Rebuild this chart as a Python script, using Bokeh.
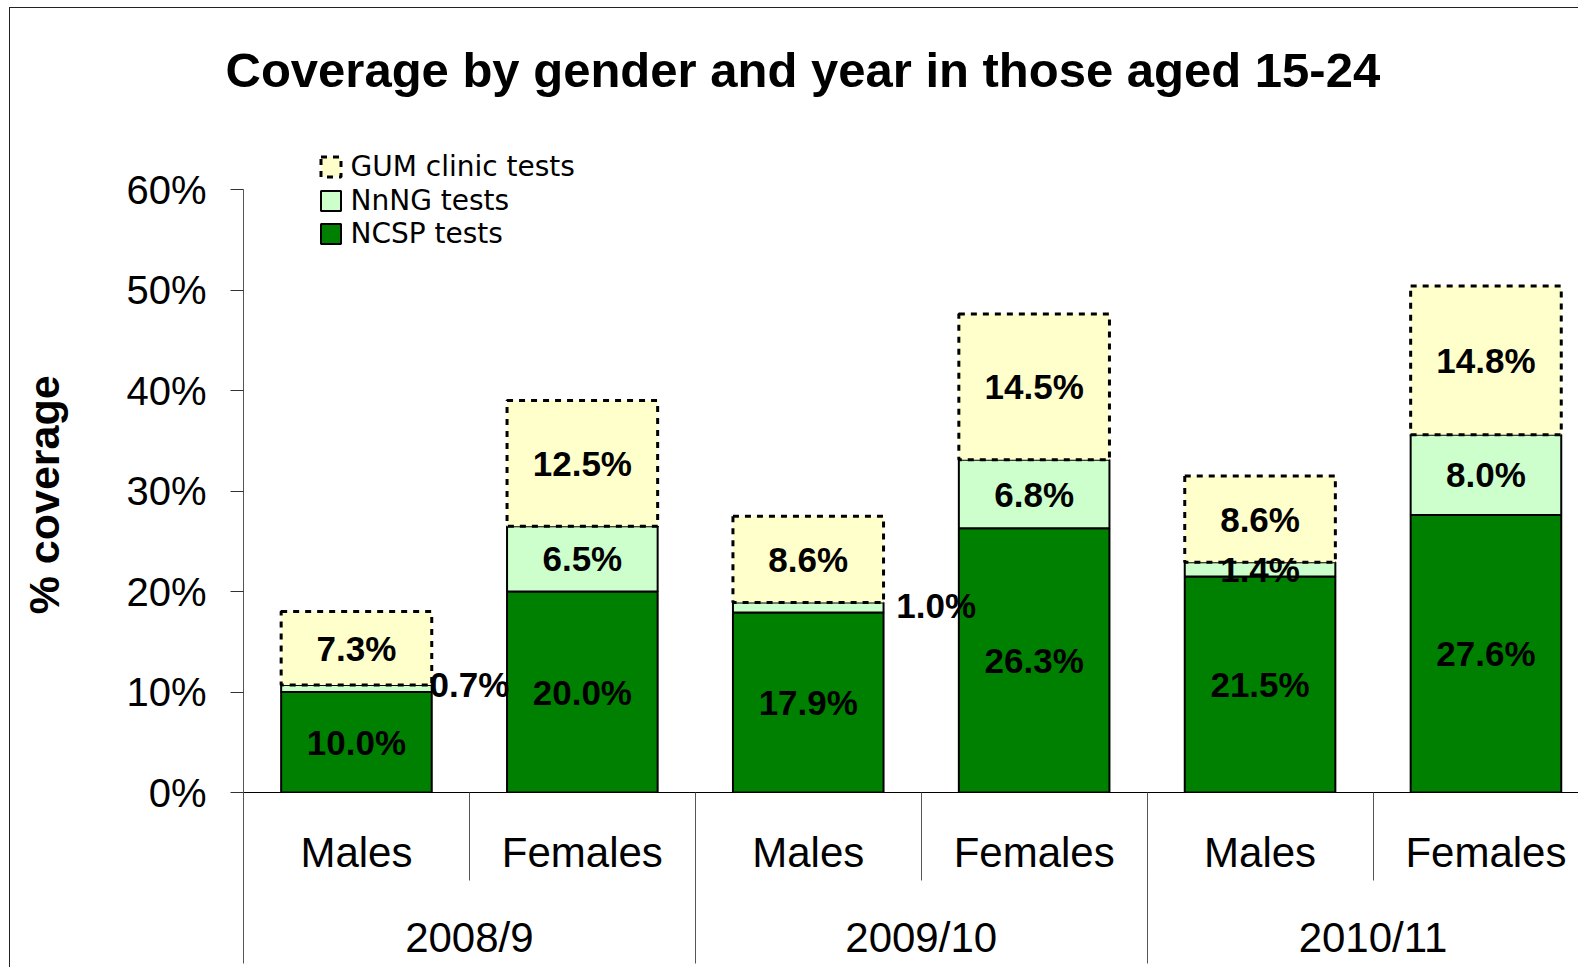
import numpy as np
from bokeh.plotting import figure
from bokeh.models import (ColumnDataSource, Range1d, LinearAxis, FixedTicker,
                          PrintfTickFormatter, Legend, LegendItem, Title)
from bokeh.core.properties import value
from bokeh.embed import file_html
from bokeh.resources import INLINE

# ---- data ----
years = ["2008/9", "2009/10", "2010/11"]
genders = ["Males", "Females"]
ncsp = [10.0, 20.0, 17.9, 26.3, 21.5, 27.6]
nnng = [0.7, 6.5, 1.0, 6.8, 1.4, 8.0]
gum = [7.3, 12.5, 8.6, 14.5, 8.6, 14.8]
y_ticks = [0, 10, 20, 30, 40, 50, 60]
series_names = ["NCSP tests", "NnNG tests", "GUM clinic tests"]
title_text = "Coverage by gender and year in those aged 15-24"
y_title = "% coverage"

# label nudges (screen px) for the two small NnNG labels moved aside
nnng_dx = [113, 0, 128, 0, 0, 0]
nnng_dy = [-4, 0, -2, 0, 0, 0]

FONT = "Liberation Sans"
n_groups = len(years) * len(genders)
x = np.arange(n_groups) + 0.5
g_lab = [g for _ in years for g in genders]

a = np.array(ncsp)
b = np.array(nnng)
c = np.array(gum)
src = ColumnDataSource(dict(
    x=x,
    nc_b=np.zeros(n_groups), nc_t=a,
    nn_b=a, nn_t=a + b,
    gu_b=a + b, gu_t=a + b + c,
    nc_m=a / 2, nn_m=a + b / 2, gu_m=a + b + c / 2,
    nc_l=[f"{v:.1f}%" for v in ncsp],
    nn_l=[f"{v:.1f}%" for v in nnng],
    gu_l=[f"{v:.1f}%" for v in gum],
    nn_dx=nnng_dx, nn_dy=nnng_dy,
))

# layout (page pixels)
FL, FB, FT = 243, 792, 137          # frame left, bottom, top
Y60 = 189                           # pixel row of the 60% tick
ppu = (FB - Y60) / 60.0
slot_px = 225.9
W_PAGE, H_PAGE = 1578, 967

p = figure(width=W_PAGE, height=H_PAGE,
           x_range=Range1d(0, (W_PAGE - FL) / slot_px),
           y_range=Range1d(0, (FB - FT) / ppu),
           output_backend="svg", toolbar_location=None,
           x_axis_location=None,
           min_border_left=FL, min_border_right=0,
           min_border_top=FT, min_border_bottom=H_PAGE - FB)
p.title.visible = False
p.styles = {"box-shadow": "inset 9px 7px 0 0 #ffffff, inset 10px 8px 0 0 #222222"}
p.grid.visible = False
p.outline_line_color = None
p.background_fill_color = "white"
p.border_fill_color = None

W = 2 / 3
r_nc = p.vbar(x="x", bottom="nc_b", top="nc_t", width=W, source=src,
              fill_color="#008000", line_color="black", line_width=2)
r_nn = p.vbar(x="x", bottom="nn_b", top="nn_t", width=W, source=src,
              fill_color="#CCFFCC", line_color="black", line_width=2)
r_gu = p.vbar(x="x", bottom="gu_b", top="gu_t", width=W, source=src,
              fill_color="#FFFFCC", line_color="black", line_width=3,
              line_dash="6 6")

lbl = dict(text_font=value(FONT), text_font_style="bold",
           text_font_size="35px", text_align="center",
           text_baseline="middle", text_color="black", source=src)
p.text(x="x", y="nc_m", text="nc_l", **lbl)
p.text(x="x", y="nn_m", text="nn_l", x_offset="nn_dx", y_offset="nn_dy", **lbl)
p.text(x="x", y="gu_m", text="gu_l", **lbl)

# y axis
yax = p.yaxis[0]
yax.ticker = FixedTicker(ticks=y_ticks)
yax.formatter = PrintfTickFormatter(format="%d%%")
yax.bounds = (0, 60)
yax.major_tick_out = 13
yax.major_tick_in = 0
yax.minor_tick_out = 0
yax.minor_tick_in = 0
yax.axis_line_color = "#555555"
yax.major_tick_line_color = "#333333"
yax.major_label_text_font = FONT
yax.major_label_text_font_size = "40px"
yax.major_label_text_color = "black"
yax.major_label_standoff = 24
# the axis title is centred on the whole frame, which reaches above 60%;
# trailing no-break spaces re-centre the visible words on the 0-60% span
yax.axis_label = y_title + "\u00a0" * 5
yax.axis_label_text_font = FONT
yax.axis_label_text_font_style = "bold"
yax.axis_label_text_font_size = "43px"
yax.axis_label_text_color = "black"
yax.axis_label_standoff = 55

# x axes (two levels); separators drawn as minor ticks
ax_g = LinearAxis(ticker=FixedTicker(ticks=list(x), minor_ticks=[0, 1, 2, 3, 4, 5, 6]),
                  major_label_overrides={float(xx): g for xx, g in zip(x, g_lab)},
                  major_tick_out=0, major_tick_in=0,
                  minor_tick_in=0, minor_tick_out=88,
                  minor_tick_line_color="#555555",
                  axis_line_color="black", axis_line_width=1,
                  major_label_standoff=-52,
                  major_label_text_font=FONT,
                  major_label_text_font_size="42px",
                  major_label_text_color="black")
p.add_layout(ax_g, "below")

year_x = [1.0, 3.0, 5.0]
ax_y = LinearAxis(ticker=FixedTicker(ticks=year_x, minor_ticks=[0, 2, 4, 6]),
                  major_label_overrides={yx: yr for yx, yr in zip(year_x, years)},
                  major_tick_out=0, major_tick_in=0,
                  minor_tick_in=0, minor_tick_out=85,
                  minor_tick_line_color="#555555",
                  axis_line_color=None,
                  major_label_standoff=-50,
                  major_label_text_font=FONT,
                  major_label_text_font_size="42px",
                  major_label_text_color="black")
p.add_layout(ax_y, "below")

# legend: one legend per row for exact spacing
H = 28
leg_style = dict(glyph_width=25, glyph_height=25, label_standoff=8,
                 label_height=H, padding=0, spacing=0, margin=0,
                 border_line_color=None, background_fill_alpha=0,
                 label_text_font="DejaVu Sans", label_text_font_size="28px",
                 label_text_color="black")
for name, r, cy in [(series_names[2], r_gu, 167), (series_names[1], r_nn, 201),
                    (series_names[0], r_nc, 234)]:
    top = cy - 12.5
    leg = Legend(items=[LegendItem(label=name, renderers=[r])],
                 location=(317.5 - FL, FB - (top + H)), **leg_style)
    p.add_layout(leg)

# title in the top panel (panel height = 2 + text height + standoff = FT)
ttl = Title(text=title_text, text_font=FONT, text_font_style="bold",
            text_font_size="49px", text_color="black",
            align="left", offset=-18, vertical_align="middle", standoff=80)
p.add_layout(ttl, "above")

open("out.html", "w").write(file_html(p, INLINE))
